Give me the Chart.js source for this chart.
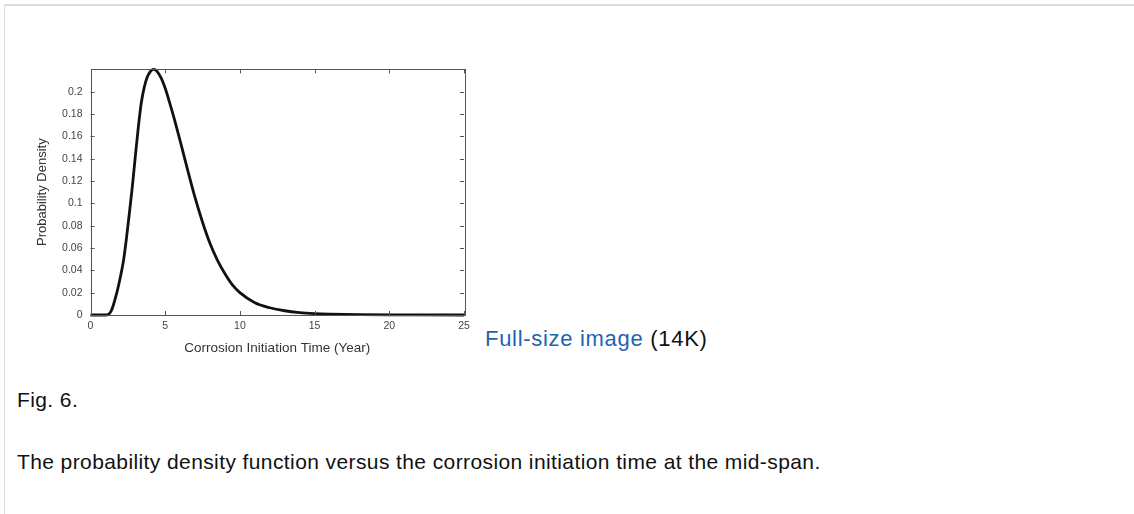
<!DOCTYPE html>
<html>
<head>
<meta charset="utf-8">
<script src="https://cdn.jsdelivr.net/npm/chart.js@4/dist/chart.umd.min.js"></script>
<style>
  html, body { margin: 0; padding: 0; background: #fff; width: 1134px; height: 514px; overflow: hidden; }
  body { font-family: "Liberation Sans", Arial, sans-serif; position: relative; }
  #frame { position: absolute; left: 4px; top: 4px; width: 1140px; height: 520px; border-top: 2px solid #dcdcdc; border-left: 1px solid #dcdcdc; }
  #wrap { position: absolute; left: 20px; top: 55px; width: 460px; height: 305px; }
  .txt { position: absolute; font-size: 21px; line-height: 21px; white-space: nowrap; color: #111; letter-spacing: 0.4px; }
  a { color: #1f64ad; text-decoration: none; }
</style>
</head>
<body>
<div id="frame"></div>
<div id="wrap"><canvas id="c" width="460" height="305"></canvas></div>
<div class="txt" style="left:485px; top:328px; font-size:22px; line-height:22px; letter-spacing:0.7px;"><a href="#">Full-size image</a> (14K)</div>
<div class="txt" style="left:17px; top:389px;">Fig. 6.</div>
<div class="txt" style="left:17px; top:451px;">The probability density function versus the corrosion initiation time at the mid-span.</div>
<script>
// Data
const timeYears = [0, 0.5, 1.0, 1.2, 1.4, 1.6, 1.8, 2.0, 2.2, 2.4, 2.6, 2.8, 3.0, 3.2, 3.4, 3.6, 3.8, 4.0, 4.2, 4.4, 4.7, 5.0, 5.3, 5.6, 6.0, 6.5, 7.0, 7.5, 8.0, 8.5, 9.0, 9.5, 10, 11, 12, 13, 14, 15, 16, 18, 20, 22, 25];
const density = [0, 0, 0, 0.0005, 0.004, 0.012, 0.022, 0.034, 0.048, 0.068, 0.091, 0.115, 0.142, 0.168, 0.19, 0.204, 0.213, 0.218, 0.22, 0.219, 0.213, 0.203, 0.19, 0.176, 0.156, 0.13, 0.105, 0.083, 0.064, 0.049, 0.037, 0.027, 0.020, 0.011, 0.0065, 0.0038, 0.0022, 0.0013, 0.0008, 0.0003, 0.0001, 0.00005, 0];
const xTicks = [0, 5, 10, 15, 20, 25];
const yTickLabels = ['0', '0.02', '0.04', '0.06', '0.08', '0.1', '0.12', '0.14', '0.16', '0.18', '0.2'];
const xTitle = 'Corrosion Initiation Time (Year)';
const yTitle = 'Probability Density';

const points = timeYears.map((t, i) => ({ x: t, y: density[i] }));

const frameTicks = {
  id: 'frameTicks',
  afterDraw(chart) {
    const { ctx, chartArea: a, scales: { x, y } } = chart;
    ctx.save();
    ctx.strokeStyle = '#555';
    ctx.lineWidth = 1;
    ctx.strokeRect(Math.round(a.left) + 0.5, Math.round(a.top) + 0.5, Math.round(a.right - a.left), Math.round(a.bottom - a.top));
    const L = 4;
    ctx.beginPath();
    x.ticks.forEach(tk => {
      const px = Math.round(x.getPixelForValue(tk.value)) + 0.5;
      ctx.moveTo(px, a.bottom); ctx.lineTo(px, a.bottom - L);
      ctx.moveTo(px, a.top); ctx.lineTo(px, a.top + L);
    });
    y.ticks.forEach(tk => {
      const py = Math.round(y.getPixelForValue(tk.value)) + 0.5;
      ctx.moveTo(a.left, py); ctx.lineTo(a.left + L, py);
      ctx.moveTo(a.right, py); ctx.lineTo(a.right - L, py);
    });
    ctx.stroke();
    ctx.restore();
  }
};

new Chart(document.getElementById('c'), {
  type: 'scatter',
  data: {
    datasets: [{
      data: points,
      showLine: true,
      borderColor: '#111',
      borderWidth: 2.8,
      pointRadius: 0,
      cubicInterpolationMode: 'monotone',
      clip: false
    }]
  },
  options: {
    responsive: false,
    animation: false,
    events: [],
    layout: { padding: { left: 0, top: 13, right: 16, bottom: 0 } },
    plugins: { legend: { display: false }, tooltip: { enabled: false } },
    scales: {
      x: {
        type: 'linear', min: 0, max: 25,
        afterBuildTicks: s => { s.ticks = xTicks.map(v => ({ value: v })); },
        afterFit: s => { s.height = 45; },
        grid: { display: false, drawTicks: false },
        border: { display: false },
        ticks: { padding: 5, color: '#444', font: { family: 'Liberation Sans, Arial', size: 10.5 }, maxRotation: 0, callback: v => String(v) },
        title: { display: true, text: xTitle, color: '#333', font: { family: 'Liberation Sans, Arial', size: 13.5 }, padding: { top: 0, bottom: 4 } }
      },
      y: {
        type: 'linear', min: 0, max: 0.22,
        afterBuildTicks: s => { s.ticks = yTickLabels.map(v => ({ value: parseFloat(v) })); },
        afterFit: s => { s.width = 70.5; },
        grid: { display: false, drawTicks: false },
        border: { display: false },
        ticks: { padding: 8, color: '#444', font: { family: 'Liberation Sans, Arial', size: 10.5 }, callback: (v, i) => yTickLabels[i] },
        title: { display: true, text: yTitle, color: '#333', font: { family: 'Liberation Sans, Arial', size: 13 }, padding: { top: 15, bottom: 0 } }
      }
    }
  },
  plugins: [frameTicks]
});
</script>
</body>
</html>
